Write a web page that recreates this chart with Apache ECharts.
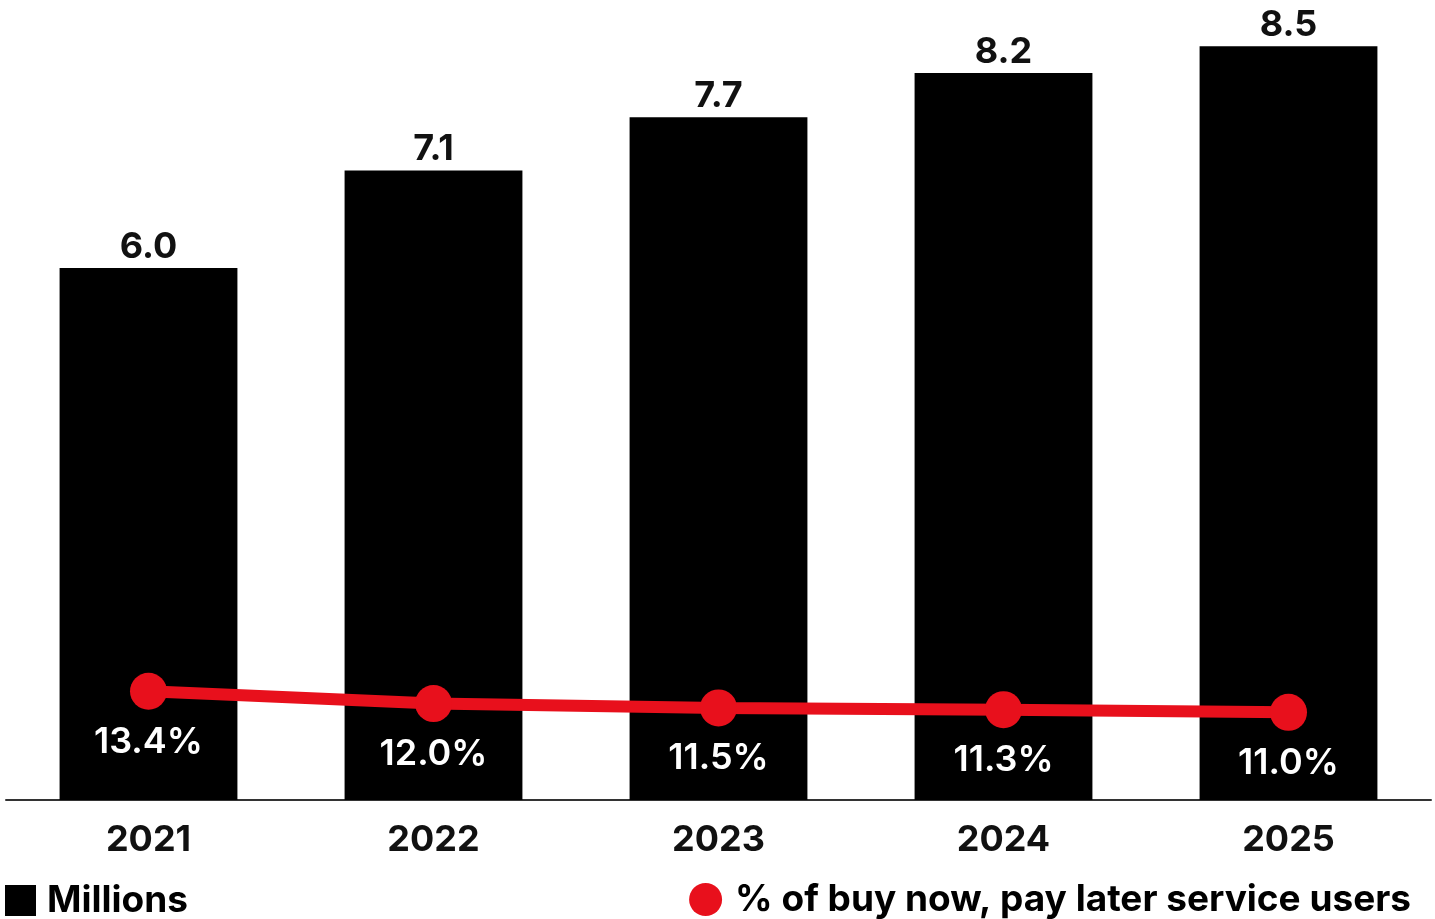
<!DOCTYPE html>
<html><head><meta charset="utf-8">
<script src="https://cdn.jsdelivr.net/npm/echarts@6/dist/echarts.min.js"></script>
<style>html,body{margin:0;padding:0;background:#fff}#c{width:1435px;height:919px}</style>
</head><body><div id="c"></div>
<script>
const categories = ['2021','2022','2023','2024','2025'];
const millions = [6.0, 7.1, 7.7, 8.2, 8.5];
const shareUsers = [13.4, 12.0, 11.5, 11.3, 11.0];
const seriesNames = ['Millions', '% of buy now, pay later service users'];

const FONT = 'Inter, "Noto Sans", sans-serif';
const chart = echarts.init(document.getElementById('c'));
chart.setOption({
  animation: false,
  textStyle: { fontFamily: FONT },
  grid: { left: 6, right: 4, top: 2, bottom: 119, containLabel: false },
  legend: [
    { data: [{ name: seriesNames[0], icon: 'rect' }], left: 5, top: 882, padding: 0, itemWidth: 31, itemHeight: 31, itemGap: 10,
      textStyle: { fontSize: 37, fontWeight: 'bold', color: '#000', fontFamily: FONT, padding: [0, 0, 0, 6] } },
    { data: [{ name: seriesNames[1], icon: 'circle' }], right: 24, top: 881, padding: 0, itemWidth: 33, itemHeight: 33, itemGap: 12,
      textStyle: { fontSize: 37, fontWeight: 'bold', color: '#000', fontFamily: FONT, padding: [0, 0, 0, 8] } }
  ],
  xAxis: {
    type: 'category', data: categories,
    axisLine: { lineStyle: { color: '#333', width: 2 } },
    axisTick: { show: false },
    axisLabel: { fontSize: 36, fontWeight: 'bold', color: '#111', margin: 22, fontFamily: FONT }
  },
  yAxis: [
    { type: 'value', min: 0, max: 9, show: false, splitLine: { show: false } },
    { type: 'value', min: 1, max: 92, show: false, splitLine: { show: false } }
  ],
  series: [
    { name: seriesNames[0], type: 'bar', data: millions, barWidth: '62.4%', itemStyle: { color: '#000' },
      label: { show: true, position: 'top', distance: 3, fontSize: 36, fontWeight: 'bold', color: '#111', fontFamily: FONT,
        formatter: p => p.value.toFixed(1) } },
    { name: seriesNames[1], type: 'line', yAxisIndex: 1, data: shareUsers, symbol: 'circle', symbolSize: 37,
      lineStyle: { color: '#e8101c', width: 12 }, itemStyle: { color: '#e8101c' },
      label: { show: true, position: 'bottom', distance: 14, fontSize: 36, fontWeight: 600, color: '#fff', fontFamily: FONT,
        formatter: p => p.value.toFixed(1) + '%' } }
  ]
});
</script></body></html>
